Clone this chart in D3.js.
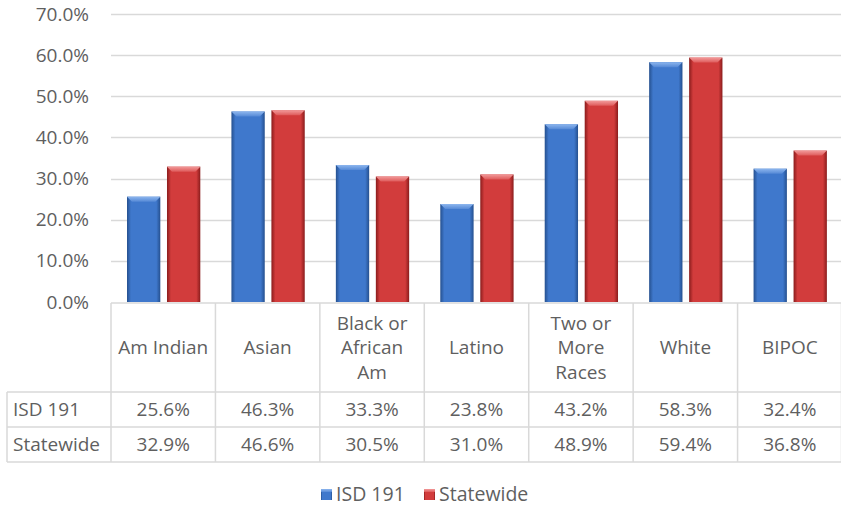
<!DOCTYPE html>
<html><head><meta charset="utf-8">
<script src="https://cdn.jsdelivr.net/npm/d3@7"></script>
<style>
html,body{margin:0;padding:0;background:#fff;}
svg{display:block;font-family:"Open Sans",sans-serif;}
</style></head>
<body><svg id="c" width="841" height="508"></svg>
<script>
const categories = [["Am Indian"],["Asian"],["Black or","African","Am"],["Latino"],["Two or","More","Races"],["White"],["BIPOC"]];
const seriesNames = ["ISD 191","Statewide"];
const isd191 = [25.6,46.3,33.3,23.8,43.2,58.3,32.4];
const statewide = [32.9,46.6,30.5,31.0,48.9,59.4,36.8];
const yTicks = [0,10,20,30,40,50,60,70];

(function(){
const svg = d3.select("#c");
const pLeft = 111, pRight = 842, pTop = 14, pBase = 302;
const txt = "#5f5f5f", grid = "#d9d9d9", fs = 19;

const idx = d3.range(categories.length);
const x = d3.scaleBand().domain(idx).range([pLeft, pRight]).padding(0);
const xi = d3.scaleBand().domain(seriesNames).range([16, 89.3]).paddingInner(0.167);
const y = d3.scaleLinear().domain([0,70]).range([pBase, pTop]);
const data = [isd191, statewide];

const defs = svg.append("defs");
const pal = {
  "ISD 191": {edge:"#25508f", mid:"#3f78cc", top1:"#8db6ee", top2:"#5589d6"},
  "Statewide": {edge:"#8a1c1c", mid:"#d23c3c", top1:"#f29a9a", top2:"#de5a5a"}
};
seriesNames.forEach((s,i)=>{
  const p = pal[s];
  const g = defs.append("linearGradient").attr("id","h"+i).attr("x1","0").attr("x2","1").attr("y1","0").attr("y2","0");
  [[0,p.edge],[0.12,p.mid],[0.55,p.mid],[0.88,p.mid],[1,p.edge]].forEach(([o,c])=>g.append("stop").attr("offset",o).attr("stop-color",c));
  const t = defs.append("linearGradient").attr("id","t"+i).attr("x1","0").attr("x2","0").attr("y1","0").attr("y2","1");
  t.append("stop").attr("offset",0).attr("stop-color",p.top1);
  t.append("stop").attr("offset",1).attr("stop-color",p.top2);
});

// gridlines
svg.append("g").selectAll("line").data(yTicks.filter(d=>d>0)).join("line")
  .attr("x1",pLeft).attr("x2",pRight).attr("y1",d=>Math.round(y(d))+0.5).attr("y2",d=>Math.round(y(d))+0.5)
  .attr("stroke",grid).attr("stroke-width",1.3);

// y labels
const yAxis = d3.axisLeft(y).tickValues(yTicks).tickFormat(d=>d.toFixed(1)+"%").tickSize(0).tickPadding(0);
const ya = svg.append("g").attr("transform","translate(89,0)").call(yAxis);
ya.select(".domain").remove();
ya.selectAll("text").attr("fill",txt).style("font-size",fs+"px").style("font-family","'Open Sans',sans-serif");

// bars
seriesNames.forEach((s,si)=>{
  const g = svg.append("g");
  data[si].forEach((v,ci)=>{
    const bx = x(ci)+xi(s), bw = xi.bandwidth(), by = y(v), bh = pBase - by;
    const b = 5;
    g.append("rect").attr("x",bx).attr("y",by).attr("width",bw).attr("height",bh).attr("fill",`url(#h${si})`);
    g.append("path").attr("d",`M${bx},${by}L${bx+bw},${by}L${bx+bw-b},${by+b}L${bx+b},${by+b}Z`).attr("fill",`url(#t${si})`);
  });
});

// table
const tb = svg.append("g");
const r0 = 303, r1 = 392, r2 = 427, r3 = 462, tl = 7;
const hl = (x1,x2,yy)=>tb.append("line").attr("x1",x1).attr("x2",x2).attr("y1",yy).attr("y2",yy).attr("stroke",grid).attr("stroke-width",1.5);
const vl = (xx,y1,y2)=>tb.append("line").attr("x1",xx).attr("x2",xx).attr("y1",y1).attr("y2",y2).attr("stroke",grid).attr("stroke-width",1.5);
hl(pLeft,pRight,r0); hl(tl,pRight,r1); hl(tl,pRight,r2); hl(tl,pRight,r3);
vl(tl,r1,r3);
idx.forEach(i=>vl(x(i),r0,r3));
vl(pRight-0.5,r0,r3);

// header labels
categories.forEach((lines,ci)=>{
  const cx = x(ci)+x.bandwidth()/2;
  const lh = 24.5, mid = (r0+r1)/2;
  const t = tb.append("text").attr("text-anchor","middle").attr("fill",txt).style("font-size",fs+"px");
  lines.forEach((ln,li)=>{
    t.append("tspan").attr("x",cx).attr("y",mid + (li-(lines.length-1)/2)*lh).attr("dy","0.35em").text(ln);
  });
});
// rows
const rowsY = [(r1+r2)/2,(r2+r3)/2];
seriesNames.forEach((s,si)=>{
  tb.append("text").attr("x",13).attr("y",rowsY[si]).attr("dy","0.35em").attr("fill",txt).style("font-size",fs+"px").text(s);
  data[si].forEach((v,ci)=>{
    tb.append("text").attr("x",x(ci)+x.bandwidth()/2).attr("y",rowsY[si]).attr("dy","0.35em").attr("text-anchor","middle")
      .attr("fill",txt).style("font-size",fs+"px").text(v.toFixed(1)+"%");
  });
});

// legend
const lg = svg.append("g");
const legendItems = [{s:"ISD 191",x:321},{s:"Statewide",x:424}];
legendItems.forEach((d,i)=>{
  lg.append("rect").attr("x",d.x).attr("y",489).attr("width",11).attr("height",11).attr("fill",`url(#h${i})`);
  lg.append("rect").attr("x",d.x).attr("y",489).attr("width",11).attr("height",3).attr("fill",`url(#t${i})`);
  lg.append("text").attr("x",d.x+15).attr("y",494).attr("dy","0.35em").attr("fill",txt).style("font-size","19.5px").text(d.s);
});
})();
</script></body></html>
